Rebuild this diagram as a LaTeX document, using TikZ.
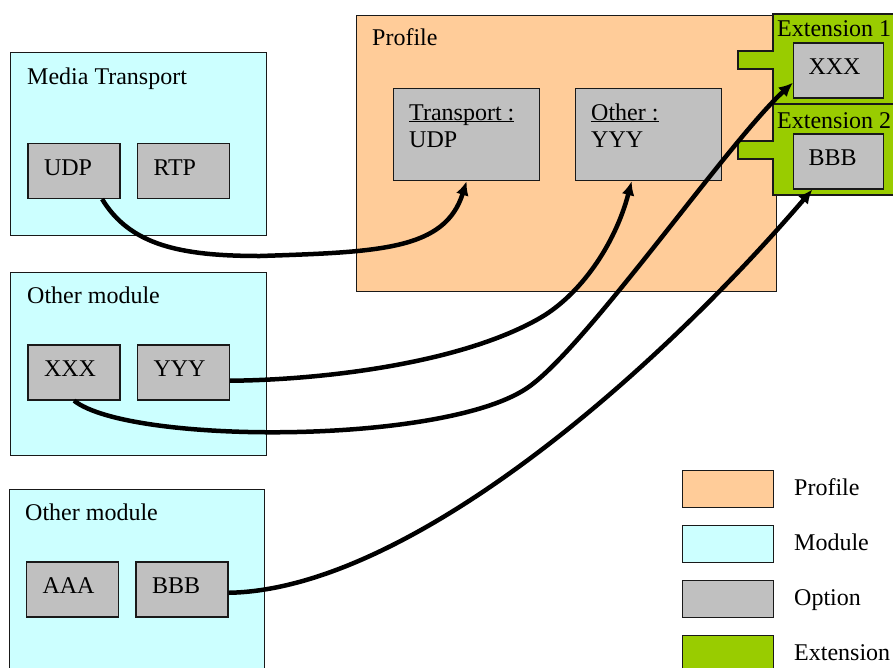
\documentclass[tikz,border=0pt]{standalone}
\usepackage{fontspec}
\setmainfont{Liberation Serif}
\usetikzlibrary{positioning,calc,arrows.meta}
\definecolor{profpeach}{HTML}{FFCC99}
\definecolor{modcyan}{HTML}{CCFFFF}
\definecolor{optgray}{HTML}{C0C0C0}
\definecolor{extgreen}{HTML}{99CC00}

\begin{document}
\begin{tikzpicture}[x=1pt,y=1pt,font=\rmfamily\fontsize{24}{27}\selectfont]
    \tikzstyle{box}=[draw=black!90,line width=1.2,rectangle,inner sep=0,anchor=north west]
    \tikzstyle{module}=[box,fill=modcyan]
    \tikzstyle{profile}=[box,fill=profpeach]
    \tikzstyle{opt}=[box,fill=optgray,anchor=center,minimum height=55,text width=60pt,inner xsep=16pt,align=left,text height=16pt,text depth=8pt]
    \tikzstyle{optbig}=[box,fill=optgray,minimum width=146,minimum height=92]
    \tikzstyle{ext}=[draw=black!90,line width=1.2,fill=extgreen]
    \tikzstyle{note}=[inner sep=0,anchor=base west]
    \tikzstyle{link}=[line width=4.5,-{Latex[length=14pt,width=13pt]}]
    \useasboundingbox (0,0) rectangle (893,-667);
    {
        % modules
        \node[module,minimum width=256,minimum height=183] (mt) at (10,-52) {};
        \node[module,minimum width=256,minimum height=183] (om1) at (10,-272) {};
        \node[module,minimum width=255,minimum height=190] (om2) at (9,-489) {};
        \node[note] (mtt) at (27,-84) {Media Transport};
        \node[note] (om1t) at (27,-303) {Other module};
        \node[note] (om2t) at (25,-520) {Other module};

        \node[opt] (udp) at (74,-171) {UDP};
        \node[opt] (rtp) at (183.5,-171) {RTP};
        \node[opt] (xxx) at (74,-372.5) {XXX};
        \node[opt] (yyy) at (183.5,-372.5) {YYY};
        \node[opt] (aaa) at (72.5,-589.5) {AAA};
        \node[opt] (bbb) at (182,-589.5) {BBB};

        % profile
        \node[profile,minimum width=420,minimum height=276] (prof) at (356,-15) {};
        \node[note] (proft) at (372,-45) {Profile};
        \node[optbig] (tport) at (393,-88) {};
        \node[note] (tportt) at (409,-120) {\underline{\smash{Transport :}}};
        \node[note] (tportv) at (409,-147) {UDP};
        \node[optbig] (other) at (575,-88) {};
        \node[note] (othert) at (591,-120) {\underline{\smash{Other :}}};
        \node[note] (otherv) at (591,-147) {YYY};

        % extensions
        \draw[ext] (773,-14) -- (896,-14) -- (896,-104) -- (773,-104) -- (773,-69)
            -- (738,-69) -- (738,-51) -- (773,-51) -- cycle;
        \draw[ext] (773,-104) -- (896,-104) -- (896,-195) -- (773,-195) -- (773,-159)
            -- (738,-159) -- (738,-141) -- (773,-141) -- cycle;
        \node[note] (ext1t) at (777,-36) {Extension 1};
        \node[note] (ext2t) at (777,-128) {Extension 2};
        \node[opt,inner xsep=15pt] (exxx) at (838.5,-70.5) {XXX};
        \node[opt,inner xsep=15pt] (ebbb) at (838.5,-161.5) {BBB};

        % links
        \draw[link] (udp.-45) .. controls (130,-245) and (180,-256) .. (260,-256)
            .. controls (380,-252) and (445,-250) .. (tport.south);
        \draw[link] (yyy.-10) .. controls (320,-380) and (460,-364) .. (540,-318)
            .. controls (580,-295) and (615,-245) .. (other.-110);
        \draw[link] (xxx.south) .. controls (130,-445) and (450,-445) .. (530,-386)
            .. controls (590,-342) and (730,-140) .. (exxx.195);
        \draw[link] (bbb.-4) .. controls (400,-590) and (640,-390) .. (ebbb.-133);

        % legend
        \foreach \i/\col/\lab in {0/profpeach/Profile,1/modcyan/Module,2/optgray/Option,3/extgreen/Extension} {
            \node[box,fill=\col,minimum width=91,minimum height=37] (lg\i) at (682,-470-55*\i) {};
            \node[note] (lgt\i) at (794,-495-55*\i) {\lab};
        }
    }
\end{tikzpicture}
\end{document}
